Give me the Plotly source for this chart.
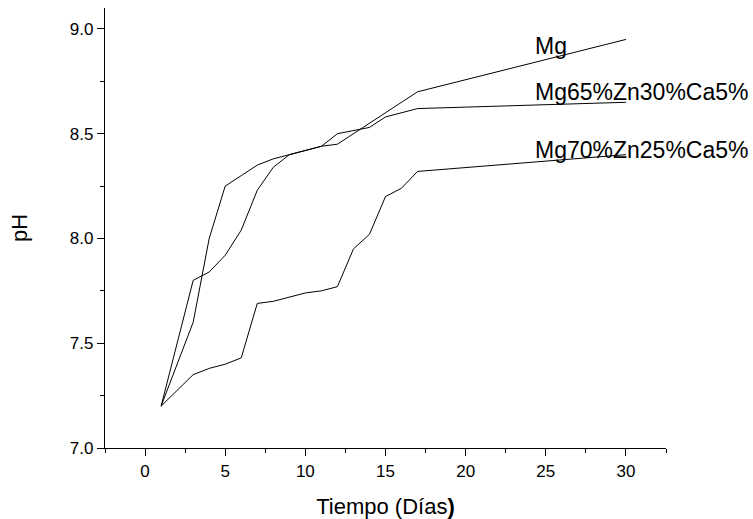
import plotly.graph_objects as go

# Immersion time (days) and measured pH for each alloy
dias = [1, 3, 4, 5, 6, 7, 8, 9, 10, 11, 12, 13, 14, 15, 16, 17, 30]
ph_mg = [7.20, 7.60, 8.00, 8.25, 8.30, 8.35, 8.38, 8.40, 8.42, 8.44, 8.45,
         8.50, 8.55, 8.60, 8.65, 8.70, 8.95]
ph_mg65 = [7.20, 7.80, 7.84, 7.92, 8.04, 8.23, 8.34, 8.40, 8.42, 8.44, 8.50,
           8.515, 8.53, 8.58, 8.60, 8.62, 8.65]
ph_mg70 = [7.20, 7.35, 7.38, 7.40, 7.43, 7.69, 7.70, 7.72, 7.74, 7.75, 7.77,
           7.95, 8.02, 8.20, 8.24, 8.32, 8.40]

series_names = ["Mg", "Mg65%Zn30%Ca5%", "Mg70%Zn25%Ca5%"]
series_vals = [ph_mg, ph_mg65, ph_mg70]
# label anchor (day, pH) for each curve name
label_x = [24.2, 24.2, 24.2]
label_y = [8.92, 8.70, 8.42]

FONT = "Arial, Liberation Sans, sans-serif"

fig = go.Figure()
for name, vals in zip(series_names, series_vals):
    fig.add_trace(go.Scatter(x=dias, y=vals, mode="lines", name=name,
                             line=dict(color="black", width=1),
                             showlegend=False))

for name, lx, ly in zip(series_names, label_x, label_y):
    fig.add_annotation(x=lx, y=ly, text=name, showarrow=False,
                       xanchor="left", yanchor="middle",
                       font=dict(family=FONT, size=23, color="black"))

axis_common = dict(showline=True, linecolor="black", linewidth=1.4,
                   ticks="outside", ticklen=7, tickwidth=1.4, tickcolor="black",
                   showgrid=False, zeroline=False, mirror=False,
                   automargin=False,
                   tickfont=dict(family=FONT, size=17, color="black"))

fig.update_xaxes(range=[-2.5, 32.5], tickmode="array",
                 tickvals=[0, 5, 10, 15, 20, 25, 30],
                 minor=dict(ticks="outside", ticklen=4, tickwidth=1.4,
                            tickcolor="black", tick0=-2.5, dtick=2.5),
                 title=dict(text="Tiempo (Días<b>)</b>",
                            font=dict(family=FONT, size=22, color="black"),
                            standoff=22),
                 **axis_common)
fig.update_yaxes(range=[7.0, 9.1], tickmode="array",
                 tickvals=[7.0, 7.5, 8.0, 8.5, 9.0], tickformat=".1f",
                 minor=dict(ticks="outside", ticklen=4, tickwidth=1.4,
                            tickcolor="black", tick0=7.0, dtick=0.25),
                 title=dict(text="pH",
                            font=dict(family=FONT, size=22, color="black"),
                            standoff=36),
                 **axis_common)

fig.update_layout(width=753, height=519,
                  margin=dict(l=105, r=87, t=8, b=71),
                  plot_bgcolor="white", paper_bgcolor="white")

fig.write_html("out.html")
